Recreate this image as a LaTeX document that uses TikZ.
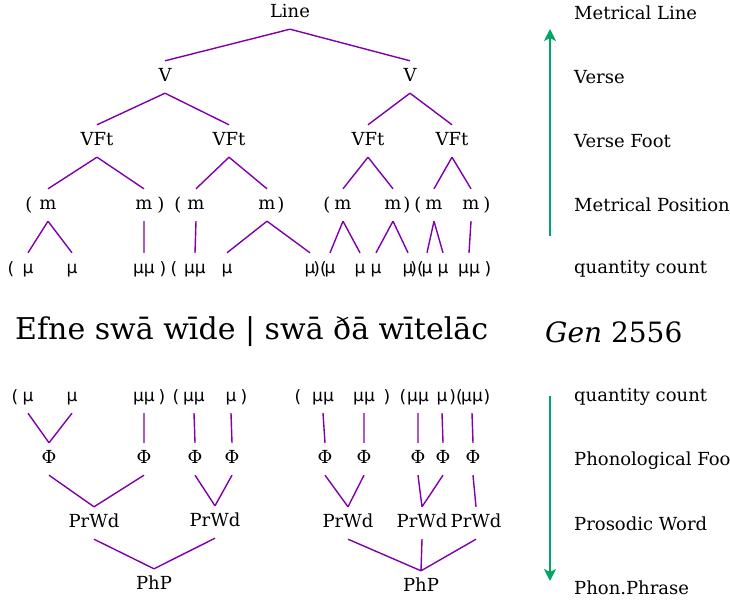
\documentclass[tikz,border=0pt]{standalone}
\usepackage{fontspec}
\setmainfont{DejaVu Serif}
\newfontfamily\musans{DejaVu Sans}
\usetikzlibrary{arrows.meta}
\definecolor{branch}{RGB}{128,0,170}
\definecolor{scalegreen}{RGB}{0,166,100}
\tikzset{
  tn/.style={font=\fontsize{18}{22}\selectfont, inner xsep=1pt, inner ysep=7.5pt,
             text height=13pt, text depth=4pt},
  par/.style={font=\fontsize{18}{22}\selectfont, inner sep=0pt},
  qc/.style={font=\musans\fontsize{17}{20}\selectfont, inner xsep=0.5pt, inner ysep=7.5pt,
             text height=13pt, text depth=4pt},
  qpar/.style={font=\musans\fontsize{17}{20}\selectfont, inner sep=0pt},
  levlab/.style={font=\fontsize{18}{22}\selectfont, anchor=west, inner sep=0pt},
  edge/.style={draw=branch, line width=1.4pt},
  scalearrow/.style={draw=scalegreen, line width=1.6pt,
                     -{Stealth[length=12pt,width=12pt,inset=3pt]}},
}
\begin{document}
\begin{tikzpicture}[x=1pt,y=-1pt]
\useasboundingbox (0,0) rectangle (730,601);

% ---- metrical tree ----
\node[tn] (line) at (290,13) {Line};
\node[tn] (v1) at (165,77) {V};
\node[tn] (v2) at (410,77) {V};
\node[tn] (vf1) at (97,141) {VFt};
\node[tn] (vf2) at (229,141) {VFt};
\node[tn] (vf3) at (368,141) {VFt};
\node[tn] (vf4) at (452,141) {VFt};

% metrical positions
\node[par] at (29,205) {(};
\node[tn] (m1) at (48,205) {m};
\node[tn] (m2) at (144,205) {m};
\node[par] at (161,205) {)};
\node[par] at (178,205) {(};
\node[tn] (m3) at (196,205) {m};
\node[tn] (m4) at (267,205) {m};
\node[par] at (281,205) {)};
\node[par] at (327,205) {(};
\node[tn] (m5) at (343,205) {m};
\node[tn] (m6) at (393,205) {m};
\node[par] at (407,205) {)};
\node[par] at (418,205) {(};
\node[tn] (m7) at (434,205) {m};
\node[tn] (m8) at (471,205) {m};
\node[par] at (487,205) {)};

% quantity count (upper)
\node[qpar] at (11,269) {(};
\node[qc] (q1) at (28,269) {μ};
\node[qc] (q2) at (72,269) {μ};
\node[qc] (q3) at (144,269) {μμ};
\node[qpar] at (163,269) {)};
\node[qpar] at (174,269) {(};
\node[qc] (q4) at (195,269) {μμ};
\node[qc] (q5) at (227,269) {μ};
\node[qc] (q6) at (310,269) {μ};
\node[qpar] at (320,269) {)(};
\node[qc] (q7) at (330,269) {μ};
\node[qc] (q8) at (360,269) {μ};
\node[qc] (q9) at (376,269) {μ};
\node[qc] (q10) at (408,269) {μ};
\node[qpar] at (417,269) {)(};
\node[qc] (q11) at (427,269) {μ};
\node[qc] (q12) at (443,269) {μ};
\node[qc] (q13) at (469,269) {μμ};
\node[qpar] at (488,269) {)};

\path[edge] (line.south) -- (v1.north) (line.south) -- (v2.north)
  (v1.south) -- (vf1.north) (v1.south) -- (vf2.north)
  (v2.south) -- (vf3.north) (v2.south) -- (vf4.north)
  (vf1.south) -- (m1.north) (vf1.south) -- (m2.north)
  (vf2.south) -- (m3.north) (vf2.south) -- (m4.north)
  (vf3.south) -- (m5.north) (vf3.south) -- (m6.north)
  (vf4.south) -- (m7.north) (vf4.south) -- (m8.north)
  (m1.south) -- (q1.north) (m1.south) -- (q2.north)
  (m2.south) -- (q3.north)
  (m3.south) -- (q4.north)
  (m4.south) -- (q5.north) (m4.south) -- (q6.north)
  (m5.south) -- (q7.north) (m5.south) -- (q8.north)
  (m6.south) -- (q9.north) (m6.south) -- (q10.north)
  (m7.south) -- (q11.north) (m7.south) -- (q12.north)
  (m8.south) -- (q13.north);

% ---- verse line ----
\node[font=\fontsize{30}{36}\selectfont, anchor=west, inner sep=0pt] (verse) at (15,332)
  {Efne swā wīde | swā ðā wītelāc};
\node[font=\fontsize{28}{34}\selectfont, anchor=west, inner sep=0pt] (ref) at (545,332)
  {\textit{Gen} 2556};

% ---- prosodic tree ----
\node[qpar] at (15,397) {(};
\node[qc] (b1) at (28,397) {μ};
\node[qc] (b2) at (72,397) {μ};
\node[qc] (b3) at (144,397) {μμ};
\node[qpar] at (162,397) {)};
\node[qpar] at (176,397) {(};
\node[qc] (b4) at (194,397) {μμ};
\node[qc] (b5) at (231,397) {μ};
\node[qpar] at (244,397) {)};
\node[qpar] at (298,397) {(};
\node[qc] (b6) at (323,397) {μμ};
\node[qc] (b7) at (364,397) {μμ};
\node[qpar] at (387,397) {)};
\node[qpar] at (403,397) {(};
\node[qc] (b8) at (418,397) {μμ};
\node[qc] (b9) at (442,397) {μ};
\node[qpar] at (456,397) {)(};
\node[qc] (b10) at (472,397) {μμ};
\node[qpar] at (487,397) {)};

\node[tn] (f1) at (49,459) {Φ};
\node[tn] (f2) at (144,459) {Φ};
\node[tn] (f3) at (195,459) {Φ};
\node[tn] (f4) at (232,459) {Φ};
\node[tn] (f5) at (325,459) {Φ};
\node[tn] (f6) at (364,459) {Φ};
\node[tn] (f7) at (418,459) {Φ};
\node[tn] (f8) at (443,459) {Φ};
\node[tn] (f9) at (473,459) {Φ};

\node[tn] (w1) at (94,523) {PrWd};
\node[tn] (w2) at (215,522) {PrWd};
\node[tn] (w3) at (348,523) {PrWd};
\node[tn] (w4) at (422,523) {PrWd};
\node[tn] (w5) at (476,523) {PrWd};

\node[tn] (p1) at (154,585) {PhP};
\node[tn] (p2) at (421,587) {PhP};

\path[edge] (b1.south) -- (f1.north) (b2.south) -- (f1.north)
  (b3.south) -- (f2.north) (b4.south) -- (f3.north) (b5.south) -- (f4.north)
  (b6.south) -- (f5.north) (b7.south) -- (f6.north) (b8.south) -- (f7.north)
  (b9.south) -- (f8.north) (b10.south) -- (f9.north)
  (f1.south) -- (w1.north) (f2.south) -- (w1.north)
  (f3.south) -- (w2.north) (f4.south) -- (w2.north)
  (f5.south) -- (w3.north) (f6.south) -- (w3.north)
  (f7.south) -- (w4.north) (f8.south) -- (w4.north)
  (f9.south) -- (w5.north)
  (w1.south) -- (p1.north) (w2.south) -- (p1.north)
  (w3.south) -- (p2.north) (w4.south) -- (p2.north) (w5.south) -- (p2.north);

% ---- level labels and direction arrows ----
\node[levlab] (l1) at (574,13) {Metrical Line};
\node[levlab] (l2) at (574,77) {Verse};
\node[levlab] (l3) at (574,141) {Verse Foot};
\node[levlab] (l4) at (574,205) {Metrical Position};
\node[levlab] (l5) at (574,269) {quantity count};
\node[levlab] (l6) at (574,397) {quantity count};
\node[levlab] (l7) at (574,461) {Phonological Foot};
\node[levlab] (l8) at (574,524) {Prosodic Word};
\node[levlab] (l9) at (574,588) {Phon.Phrase};

\coordinate (upfrom) at (550,236);
\coordinate (upto) at (550,29);
\coordinate (downfrom) at (550,396);
\coordinate (downto) at (550,581);
\draw[scalearrow] (upfrom) -- (upto);
\draw[scalearrow] (downfrom) -- (downto);
\end{tikzpicture}
\end{document}
